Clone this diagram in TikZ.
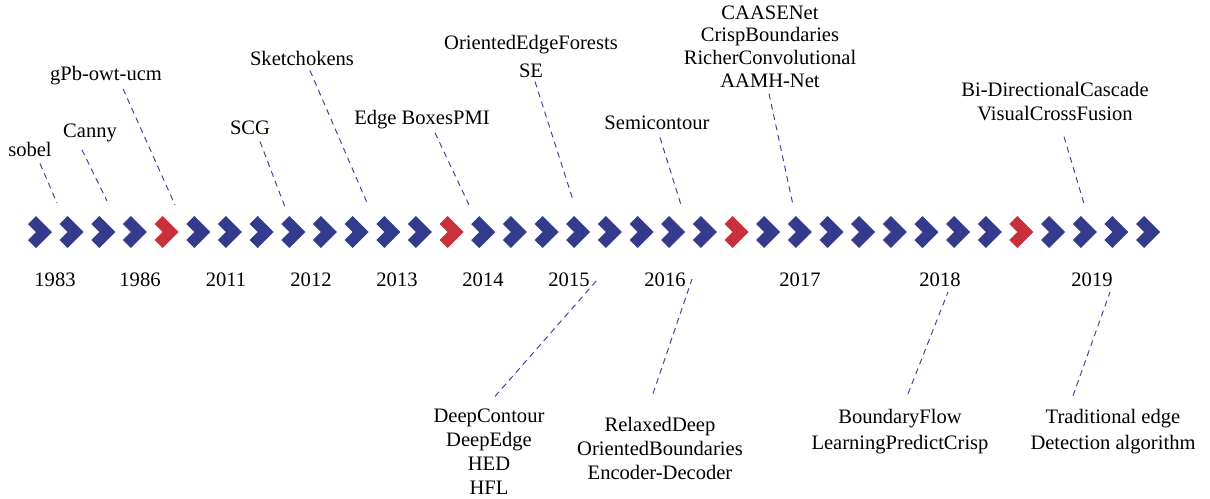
\documentclass[tikz,border=0pt]{standalone}
\usepackage{fontspec}
\setmainfont{Liberation Serif}
\usepackage{tikz}
\usetikzlibrary{calc}

\definecolor{chevblue}{HTML}{343B8D}
\definecolor{chevred}{HTML}{C8303B}
\definecolor{dashblue}{HTML}{3A46A0}

\begin{document}
\begin{tikzpicture}[x=0.02cm, y=-0.02cm]
% -------------------------------------------------
\tikzset{
  yr/.style={anchor=base, inner sep=0pt, font=\fontsize{11.7}{13.6}\selectfont},
  tag/.style={anchor=base, align=center, inner sep=0pt, font=\fontsize{11.7}{13.6}\selectfont},
  tight/.style={font=\fontsize{11.7}{12.9}\selectfont},
  link/.style={draw=dashblue, line width=0.55pt, dash pattern=on 3.4pt off 2.6pt},
  chev/.pic={\fill (0,0) -- (-16,-16) -- (-24,-8) -- (-16,0) -- (-24,8) -- (-16,16) -- cycle;}
}
% -------------------------------------------------
\useasboundingbox (0,0) rectangle (1210,498);

% row of chevrons, every ninth one red
\foreach \i in {0,...,35} {
  \pgfmathtruncatemacro{\k}{mod(\i,9)}
  \ifnum\k=4 \def\col{chevred}\else\def\col{chevblue}\fi
  \path (52+31.66*\i,232) pic[color=\col] {chev};
}

% years under the row
\node[yr] (y1983) at (55,286)  {1983};
\node[yr] (y1986) at (140,286) {1986};
\node[yr] (y2011) at (226,286) {2011};
\node[yr] (y2012) at (311,286) {2012};
\node[yr] (y2013) at (397,286) {2013};
\node[yr] (y2014) at (483,286) {2014};
\node[yr] (y2015) at (569,286) {2015};
\node[yr] (y2016) at (665,286) {2016};
\node[yr] (y2017) at (800,286) {2017};
\node[yr] (y2018) at (940,286) {2018};
\node[yr] (y2019) at (1092,286) {2019};

% methods above the row (base = last line)
\node[tag] (sobel)   at (30,156)  {sobel};
\node[tag] (canny)   at (90,137)  {Canny};
\node[tag] (gpb)     at (106,80)  {gPb-owt-ucm};
\node[tag] (scg)     at (250,134) {SCG};
\node[tag] (sketch)  at (302,65)  {Sketchokens};
\node[tag] (boxes)   at (422,124) {Edge BoxesPMI};
\node[tag] (forests) at (531,77)  {OrientedEdgeForests\\[2.2pt]SE};
\node[tag] (semi)    at (657,129) {Semicontour};
\node[tag, tight] (caase) at (770,87) {CAASENet\\CrispBoundaries\\RicherConvolutional\\AAMH-Net};
\node[tag] (bdcn)    at (1055,120) {Bi-DirectionalCascade\\VisualCrossFusion};

% methods below the row
\node[tag] (deep)  at (489,494)  {DeepContour\\DeepEdge\\HED\\HFL};
\node[tag] (relax) at (660,479)  {RelaxedDeep\\OrientedBoundaries\\Encoder-Decoder};
\node[tag] (flow)  at (900,449)  {BoundaryFlow\\[1pt]LearningPredictCrisp};
\node[tag] (trad)  at (1113,449) {Traditional edge\\[1pt]Detection algorithm};

% free ends of the leader lines
\coordinate (e1)  at (57,203);
\coordinate (e2)  at (107,201);
\coordinate (e3)  at (175,205);
\coordinate (e4)  at (285,207);
\coordinate (e5)  at (368,205);
\coordinate (e6)  at (470,207);
\coordinate (e7)  at (573,200);
\coordinate (e8)  at (682,208);
\coordinate (e9)  at (793,205);
\coordinate (e10) at (1085,207);
\coordinate (f1)  at (598,279);
\coordinate (f2)  at (692,279);
\coordinate (f3)  at (948,292);
\coordinate (f4)  at (1110,292);

\path [link] ($(sobel.south)+(10,7)$)   -- (e1);
\path [link] ($(canny.south)+(-8,8)$)   -- (e2);
\path [link] ($(gpb.south)+(17,4)$)     -- (e3);
\path [link] ($(scg.south)+(10,7)$)     -- (e4);
\path [link] ($(sketch.south)+(8,5)$)   -- (e5);
\path [link] ($(boxes.south)+(13,4)$)   -- (e6);
\path [link] ($(forests.south)+(4,4)$)  -- (e7);
\path [link] ($(semi.south)+(3,8)$)     -- (e8);
\path [link] ($(caase.south)+(-1,6)$)   -- (e9);
\path [link] ($(bdcn.south)+(9,16)$)    -- (e10);
\path [link] ($(deep.north)+(6,-12)$)   -- (f1);
\path [link] ($(relax.north)+(-7,-23)$) -- (f2);
\path [link] ($(flow.north)+(8,-15)$)   -- (f3);
\path [link] ($(trad.north)+(-40,-13)$) -- (f4);

\end{tikzpicture}
\end{document}
